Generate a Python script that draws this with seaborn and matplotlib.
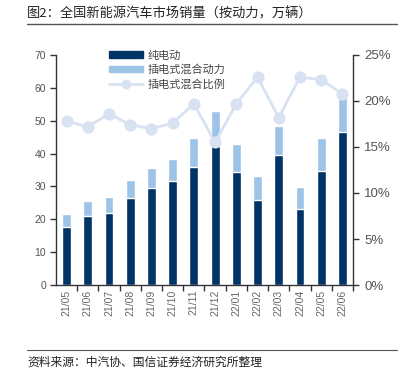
import numpy as np
import pandas as pd
import matplotlib
matplotlib.use("Agg")
import matplotlib.pyplot as plt
from matplotlib.patches import Patch
from matplotlib.lines import Line2D
from matplotlib.ticker import FuncFormatter
import seaborn as sns

months = ['21/05', '21/06', '21/07', '21/08', '21/09', '21/10', '21/11',
          '21/12', '22/01', '22/02', '22/03', '22/04', '22/05', '22/06']
bev = [17.7, 21.1, 21.8, 26.4, 29.4, 31.5, 36.0, 42.4, 34.5, 25.8, 39.5, 23.0, 34.7, 46.6]
phev = [3.9, 4.4, 5.0, 5.5, 6.2, 6.7, 8.8, 10.5, 8.5, 7.4, 8.8, 6.7, 9.9, 11.2]
phev_ratio = [17.8, 17.2, 18.6, 17.4, 17.0, 17.6, 19.7, 15.5, 19.7, 22.6, 18.2, 22.6, 22.3, 20.8]

dark = '#003366'
light = '#9dc3e6'
line_c = '#d8e2f3'

sns.set_theme(style='white')
plt.rcParams['font.family'] = ['Noto Sans CJK SC', 'DejaVu Sans']

df = pd.DataFrame({'month': months, 'bev': bev, 'phev': phev, 'ratio': phev_ratio})
df['total'] = df['bev'] + df['phev']
df['idx'] = np.arange(len(df))

fig = plt.figure(figsize=(4.07, 3.70), dpi=100)
ax = fig.add_axes([0.1376, 0.2297, 0.7297, 0.6217])

# stacked bars: total underneath, pure EV on top of it
sns.barplot(data=df, x='month', y='total', color=light, width=0.42, ax=ax, saturation=1)
sns.barplot(data=df, x='month', y='bev', color=dark, width=0.42, ax=ax, saturation=1)
ax.set_xlim(-0.5, 13.5)
ax.set_ylim(0, 70)
ax.set_yticks(range(0, 71, 10))
ax.set_xlabel('')
ax.set_ylabel('')

ax2 = ax.twinx()
sns.lineplot(data=df, x='idx', y='ratio', color=line_c, linewidth=2, marker='o',
             markersize=8, markeredgecolor=line_c, ax=ax2, zorder=3)
ax2.set_ylim(0, 25)
ax2.set_yticks(range(0, 26, 5))
ax2.yaxis.set_major_formatter(FuncFormatter(lambda v, p: f'{int(v)}%'))
ax2.set_ylabel('')
ax2.set_xlabel('')
ax2.set_xlim(-0.5, 13.5)

for a in (ax, ax2):
    a.spines['top'].set_visible(False)
    for s in ['left', 'right', 'bottom']:
        a.spines[s].set_color('#333333')
        a.spines[s].set_linewidth(1)
ax.spines['right'].set_visible(False)
ax2.spines['left'].set_visible(False)
ax2.spines['bottom'].set_visible(False)

ax.tick_params(axis='y', direction='out', length=4, width=1, color='#333333',
               labelsize=7.5, labelcolor='#555555', left=True, pad=3)
ax.tick_params(axis='x', direction='out', length=4, width=1, color='#333333',
               labelsize=7.5, labelcolor='#666666', bottom=True, rotation=90)
ax2.tick_params(axis='y', direction='out', length=4, width=1, color='#333333',
                labelsize=9.5, labelcolor='#555555', right=True, pad=4)
ax.set_xticks(np.arange(len(months)) + 0.5, minor=True)
ax.tick_params(axis='x', which='minor', length=4, width=1, color='#333333', bottom=True)
ax.tick_params(axis='x', which='major', length=0)
for lab in ax.get_xticklabels() + ax.get_yticklabels() + ax2.get_yticklabels():
    lab.set_family(['Liberation Sans', 'DejaVu Sans'])

handles = [Patch(color=dark), Patch(color=light),
           Line2D([], [], color=line_c, lw=2, marker='o', markersize=6)]
labels = ['纯电动', '插电式混合动力', '插电式混合比例']
ax.legend(handles, labels, loc='upper left', bbox_to_anchor=(0.165, 1.04),
          frameon=False, fontsize=8, handlelength=3.0, handleheight=0.5,
          labelspacing=0.35, handletextpad=0.4, borderaxespad=0,
          labelcolor='#444444')

fig.text(0.067, 0.962, '图2：全国新能源汽车市场销量（按动力，万辆）', fontsize=9.5,
         color='#222222', va='center', ha='left')
fig.add_artist(Line2D([0.067, 0.975], [0.934, 0.934], color='#555555', lw=1))
fig.add_artist(Line2D([0.067, 0.975], [0.054, 0.054], color='#555555', lw=0.8))
fig.text(0.067, 0.022, '资料来源：中汽协、国信证券经济研究所整理', fontsize=8.5,
         color='#222222', va='center', ha='left')

fig.savefig('out.png', dpi=100)
